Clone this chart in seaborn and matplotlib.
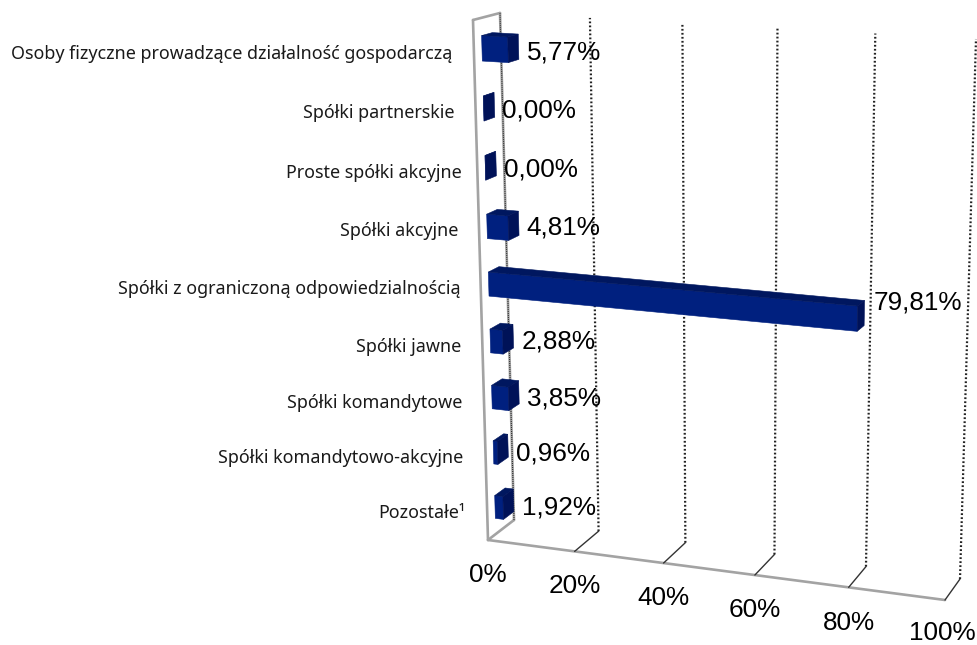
import numpy as np
import pandas as pd
import matplotlib
matplotlib.use("Agg")
import matplotlib.pyplot as plt
from matplotlib.patches import Polygon
from matplotlib.transforms import Affine2D, Transform
import seaborn as sns

categories = ["Osoby fizyczne prowadzące działalność gospodarczą", "Spółki partnerskie",
              "Proste spółki akcyjne", "Spółki akcyjne",
              "Spółki z ograniczoną odpowiedzialnością", "Spółki jawne",
              "Spółki komandytowe", "Spółki komandytowo-akcyjne", "Pozostałe¹"]
shares = [5.77, 0.00, 0.00, 4.81, 79.81, 2.88, 3.85, 0.96, 1.92]
share_labels = ["5,77%", "0,00%", "0,00%", "4,81%", "79,81%", "2,88%", "3,85%", "0,96%", "1,92%"]
axis_ticks = [0, 20, 40, 60, 80, 100]
axis_labels = ["0%", "20%", "40%", "60%", "80%", "100%"]

# layout: label nudges in pixels
CAT_NUDGE = [(-22, 3), (-21.5, 2), (-16, 2), (-21, 1), (-20.5, 1), (-21, 1), (-22, 1), (-22.5, 0), (-22, 0)]
VAL_NUDGE = [(8, 6), (8, 6), (8, 6), (8, 4), (9, -11), (8, 5), (8, 6), (8, 8), (8, 7)]
TICK_NUDGE = [(0, 35), (0, 35), (0, 35), (0, 35), (0, 36), (-3, 33)]

W, H = 978, 645
# projected box corners in picture pixels: (v, h) = (0,0), (100,0), (0,1), (100,1)
FRONT = [(488, 540), (945, 600), (473, 20), (961, 46)]
BACK = [(514, 520), (960, 579), (500, 13), (976, 39)]
BAR_D0, BAR_D1 = 0.3, 0.7
BAR_W = 0.42


def homography(corners):
    src = [(0, 0), (100, 0), (0, 1), (100, 1)]
    A, b = [], []
    for (u, w), (x, y) in zip(src, corners):
        A.append([u, w, 1, 0, 0, 0, -u * x, -w * x]); b.append(x)
        A.append([0, 0, 0, u, w, 1, -u * y, -w * y]); b.append(y)
    return np.append(np.linalg.solve(np.array(A, float), np.array(b, float)), 1).reshape(3, 3)


HF, HB = homography(FRONT), homography(BACK)


def project(v, c, d):
    v, c = np.asarray(v, float), np.asarray(c, float)
    pts = np.stack([v, (8.5 - c) / 9, np.ones_like(v)], axis=-1)
    pf = pts @ HF.T
    pb = pts @ HB.T
    return (1 - d) * pf[..., :2] / pf[..., 2:] + d * pb[..., :2] / pb[..., 2:]


PIX = Affine2D().scale(1, -1).translate(0, H)


class Plane(Transform):
    input_dims = output_dims = 2
    is_separable = False
    has_inverse = False

    def __init__(self, d):
        super().__init__()
        self.d = d

    def transform_non_affine(self, xy):
        return PIX.transform(project(xy[:, 0], xy[:, 1], self.d))


sns.set_theme(style="white")
plt.rcParams["font.family"] = ["Liberation Sans", "DejaVu Sans"]
fig = plt.figure(figsize=(W / 100, H / 100), dpi=100)
ax = fig.add_axes([0, 0, 1, 1])
df = pd.DataFrame({"category": categories, "share": shares})
FRONT_C, TOP_C, SIDE_C = "#00207f", "#00175f", "#001258"
sns.barplot(data=df, x="share", y="category", orient="h", color=FRONT_C,
            saturation=1, width=BAR_W, ax=ax, linewidth=0, zorder=5)
ax.set_xlim(0, 100)
ax.set_ylim(8.5, -0.5)
ax.axis("off")

front_tr = Plane(BAR_D0)
for bar in ax.patches:
    bar.set_transform(front_tr)
    bar.set_clip_on(False)
    bar.set_edgecolor(FRONT_C)
    bar.set_linewidth(0.4)

# walls
GREY = "#a3a3a3"
wall = dict(color=GREY, lw=1.9, clip_on=False, zorder=2, solid_capstyle="round")
bottom, top = 8.5, -0.5
fr, bk = Plane(0), Plane(1)
ax.plot([0, 0], [bottom, top], transform=fr, **wall)
ax.plot([0, 0], [bottom, top], transform=bk, **wall)
ax.plot([0, 100], [bottom, bottom], transform=fr, **wall)
for c in (top, bottom):
    p = PIX.transform(np.array([project(0, c, 0), project(0, c, 1)]))
    ax.plot(p[:, 0], p[:, 1], transform=None, **wall)

# grid lines on the back wall and floor ticks
for k, (t, lab) in enumerate(zip(axis_ticks, axis_labels)):
    ax.plot([t, t], [bottom, top], transform=bk, color="#222222", lw=1.6 if t else 0.8,
            ls=(0, (0.8, 1.0)), clip_on=False, zorder=3)
    if t:
        p = PIX.transform(np.array([project(t, bottom, 0), project(t, bottom, 1)]))
        ax.plot(p[:, 0], p[:, 1], transform=None, color="#333333", lw=1.0, clip_on=False, zorder=3)
    x, y = project(t, bottom, 0)
    dx, dy = TICK_NUDGE[k]
    ax.text(x + dx, y + dy, lab, transform=PIX, ha="center", va="center", fontsize=18.8,
            color="black", clip_on=False, zorder=7)

# depth faces of the bars, and labels
for i, (bar, val, vlab, cat) in enumerate(zip(ax.patches, shares, share_labels, categories)):
    c0, c1 = bar.get_y(), bar.get_y() + bar.get_height()
    top_face = [project(0, c0, BAR_D0), project(val, c0, BAR_D0), project(val, c0, BAR_D1), project(0, c0, BAR_D1)]
    side_face = [project(val, c0, BAR_D0), project(val, c0, BAR_D1), project(val, c1, BAR_D1), project(val, c1, BAR_D0)]
    ax.add_patch(Polygon(top_face, closed=True, transform=PIX, fc=TOP_C, ec=TOP_C, lw=0.4, zorder=5, clip_on=False))
    ax.add_patch(Polygon(side_face, closed=True, transform=PIX, fc=SIDE_C, ec=SIDE_C, lw=0.4, zorder=5, clip_on=False))

    x, y = project(val, i, BAR_D1)
    dx, dy = VAL_NUDGE[i]
    ax.text(x + dx, y + dy, vlab, transform=PIX, ha="left", va="center", fontsize=18.8,
            color="black", clip_on=False, zorder=7)

    x, y = project(0, i, 0)
    dx, dy = CAT_NUDGE[i]
    ax.text(x + dx, y + dy, cat, transform=PIX, ha="right", va="center", fontsize=12.9,
            family=["Noto Sans", "DejaVu Sans"], color="#1a1a1a", clip_on=False, zorder=7)

fig.savefig("out.png", dpi=100, facecolor="white")
